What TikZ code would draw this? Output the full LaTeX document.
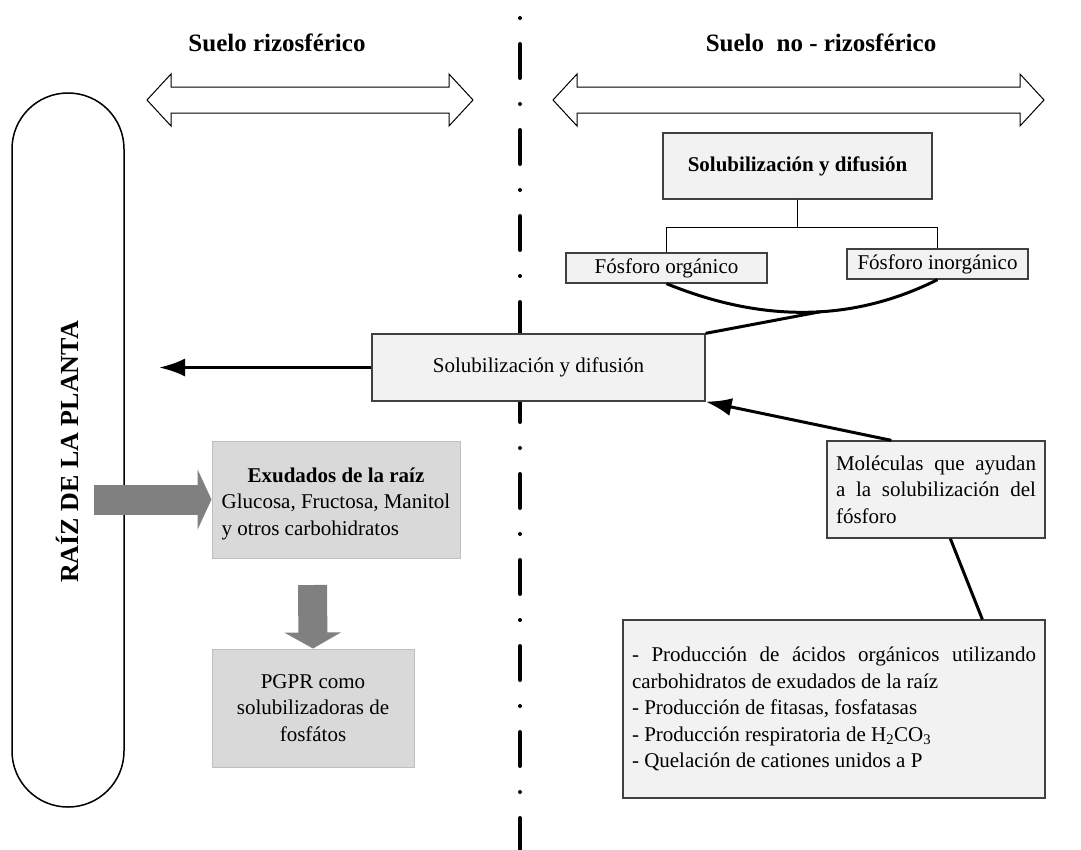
\documentclass[tikz,border=0pt]{standalone}
\usepackage{fontspec}
\setmainfont{Liberation Serif}
\usetikzlibrary{arrows.meta,calc}
\definecolor{boxlight}{HTML}{F2F2F2}
\definecolor{boxgray}{HTML}{D9D9D9}
\definecolor{boxgrayline}{HTML}{BFBFBF}
\definecolor{flowgray}{HTML}{808080}
\definecolor{edgegray}{HTML}{404040}

\begin{document}
\begin{tikzpicture}[x=1pt,y=-1pt,
  body/.style={font=\fontsize{21}{26.5}\selectfont},
  headtext/.style={font=\bfseries\fontsize{25}{30}\selectfont},
  lightbox/.style={draw=edgegray, line width=1.3pt, fill=boxlight, inner sep=0pt, body},
  graybox/.style={draw=boxgrayline, line width=1pt, fill=boxgray, inner sep=0pt, body},
  zone/.style={draw=black, line width=1pt, fill=white, line join=miter},
  bigarrow/.style={line width=3pt, -{Latex[length=26pt,width=18pt]}},
  flow/.style={draw=flowgray, line cap=butt},
  thickline/.style={line width=3pt},
]
\useasboundingbox (0,0) rectangle (1081,849);

% dash-dot divider between the two soil zones
\draw[line width=4pt, line cap=round, dash pattern=on 0pt off 26pt on 34pt off 26pt]
  (520,18) coordinate (dtop) -- (520,849) coordinate (dbot);

% zone headings
\node[headtext] (tl) at (277,43) {Suelo rizosférico};
\node[headtext] (tr) at (821,43) {Suelo\ \ no - rizosférico};

% hollow double arrows
\draw[zone] (147,100) -- (171,74) -- (171,87) -- (449,87) -- (449,74) -- (473,100)
  -- (449,126) -- (449,113) -- (171,113) -- (171,126) -- cycle;
\draw[zone] (553,100) -- (577,74) -- (577,87) -- (1020,87) -- (1020,74) -- (1044,100)
  -- (1020,126) -- (1020,113) -- (577,113) -- (577,126) -- cycle;

% root capsule
\node[draw, line width=1.5pt, rounded corners=55.9pt, minimum width=112pt,
  minimum height=714pt, inner sep=0pt] (root) at (68,450) {};
\node[rotate=90, font=\bfseries\fontsize{26}{30}\selectfont] (rootlabel) at (67,452)
  {RAÍZ DE LA PLANTA};

% phosphorus branch
\node[lightbox, minimum width=269pt, minimum height=66pt,
  font=\bfseries\fontsize{21}{26.5}\selectfont] (sol) at (797.5,166)
  {Solubilización y difusión};
\node[lightbox, minimum width=201pt, minimum height=30pt] (org) at (666.5,268)
  {Fósforo orgánico};
\node[lightbox, minimum width=181pt, minimum height=30pt] (inorg) at (937.5,264)
  {Fósforo inorgánico};
\draw[line width=1pt] (sol.south) -- ++(0,28) coordinate (fork);
\draw[line width=1pt] (org.north) |- (fork) -| (inorg.north);
\draw[thickline] (org.south) .. controls (763,323) and (853,322) .. (inorg.south)
  coordinate[pos=0.55] (merge);

% central solubilization box
\node[lightbox, minimum width=333pt, minimum height=67pt] (mid) at (538.5,367.5)
  {Solubilización y difusión};
\draw[thickline] (mid.north east) -- (merge);
\coordinate (rootin) at (159,367.5);
\draw[bigarrow] (mid.west) -- (rootin);

% helper molecules
\node[lightbox, minimum width=218pt, minimum height=97pt, text width=200pt,
  align=justify] (mol) at (936,489.5)
  {Moléculas que ayudan\linebreak a la solubilización del\linebreak fósforo};
\draw[bigarrow] ([xshift=65pt]mol.north west) -- (mid.south east);

\node[lightbox, minimum width=422pt, minimum height=178pt, text width=404pt,
  align=justify] (prod) at (834,709)
  {- Producción de ácidos orgánicos utilizando\linebreak carbohidratos de exudados de la raíz\par
   - Producción de fitasas, fosfatasas\par
   - Producción respiratoria de H\textsubscript{2}CO\textsubscript{3}\par
   - Quelación de cationes unidos a P};
\draw[thickline] ([xshift=124pt]mol.south west) -- ([xshift=360pt]prod.north west);

% root exudates and PGPR
\node[graybox, minimum width=248pt, minimum height=117pt] (exu) at (336,499.5)
  {\raisebox{-4pt}[\height][\depth]{\begin{tabular}{@{}l@{}}
     \multicolumn{1}{@{}c@{}}{\bfseries Exudados de la raíz}\\
     Glucosa, Fructosa, Manitol\\
     y otros carbohidratos
   \end{tabular}}};
\node[graybox, minimum width=202pt, minimum height=118pt, align=center] (pg) at (313,708)
  {PGPR como\\solubilizadoras de\\fosfátos};

\coordinate (exuin) at (94,499.5);
\draw[flow, line width=30pt, -{Triangle[length=14pt,width=60pt]}] (exuin) -- (exu.west);
\coordinate (pgin) at (312.5,585);
\draw[flow, line width=29pt, -{Triangle[length=16pt,width=56pt]}] (pgin) -- (pg.north);
\end{tikzpicture}
\end{document}
